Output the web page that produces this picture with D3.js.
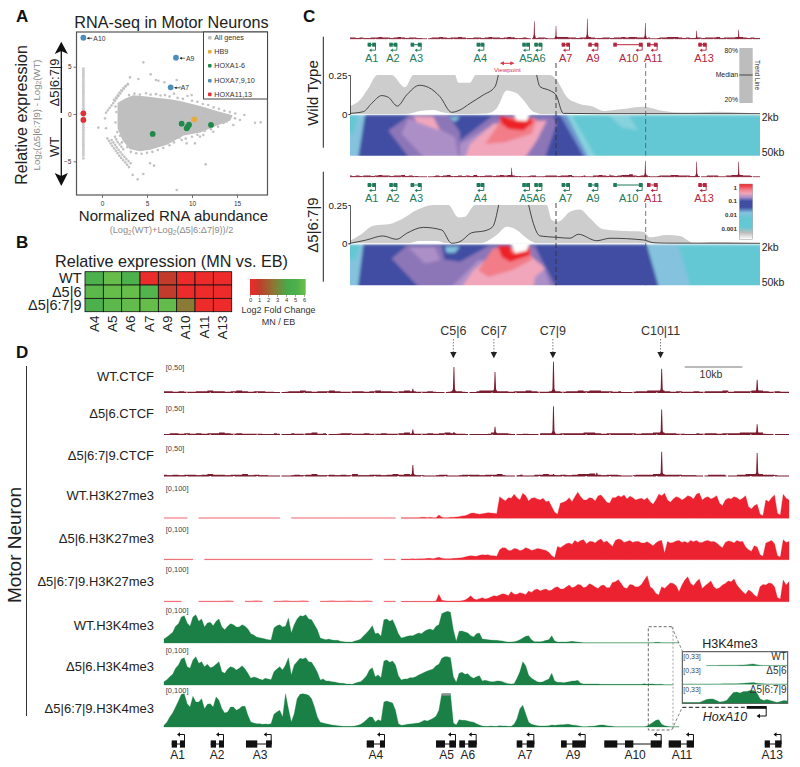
<!DOCTYPE html>
<html><head><meta charset="utf-8">
<script src="https://cdn.jsdelivr.net/npm/d3@7"></script>
<style>html,body{margin:0;padding:0;background:#fff}svg{display:block}text{font-family:"Liberation Sans",Arial,sans-serif}</style>
</head><body><div id="c"></div>
<script>
// ---------- Panel A data (log2 abundance, log2 ratio)
const cloudOutline=[[1.81,1.13],[2.56,1.55],[3.48,1.9],[4.96,1.76],[6.07,1.65],[7.56,1.48],[8.67,1.3],[10.9,.77],[12.74,.25],[14.4,-.18],[14.2,-.63],[12.4,-1.27],[10.9,-1.87],[9.04,-2.2],[7.2,-3.17],[5.33,-3.7],[4.2,-3.87],[3.1,-3.63],[2.37,-2.75],[1.81,-1.5]];
const fringeGenes=[[3,2],[3.6,2.15],[4.2,2.05],[4.9,2.2],[5.4,2.05],[6,2.1],[6.5,1.95],[7,2],[7.5,1.85],[8,2.15],[8.4,1.7],[9,1.6],[9.5,1.9],[10,1.4],[10.6,1.3],[11.2,1.05],[11.8,.95],[12.4,.7],[13,.55],[13.6,.35],[14.2,.2],[14.8,.05],[13.5,-.95],[12.9,-1.35],[12.1,-1.6],[11.4,-1.8],[10.6,-2.2],[10,-2.4],[9.3,-2.6],[8.6,-2.5],[8,-3],[7.5,-3.3],[6.8,-3.6],[6.2,-3.8],[5.6,-4],[5,-4.1],[4.4,-4.2],[3.8,-4.15],[3.2,-4],[2.8,-3.5],[2.2,-3],[2,-2.3],[1.7,-1.9],[1.5,-.9],[1.6,.2],[1.5,.8]];
const arcUpperOuter=[[.44,.14],[.81,.6],[1.19,1.06],[1.56,1.55],[1.93,2.04],[2.3,2.54],[2.67,2.96],[3.04,3.35]];
const arcUpperInner=[[1.33,1.48],[1.63,1.83],[1.93,2.25],[2.22,2.6],[2.6,2.96],[2.96,3.17]];
const arcLowerOuter=[[.59,-2.57],[.89,-2.99],[1.19,-3.45],[1.52,-3.87],[1.85,-4.3],[2.22,-4.75],[2.67,-5.21],[3.11,-5.74]];
const arcLowerMid=[[1.07,-2.75],[1.33,-3.1],[1.63,-3.52],[1.93,-3.9],[2.3,-4.33],[2.74,-4.79],[3.19,-5.21]];
const arcLowerInner=[[1.44,-2.4],[1.7,-2.92],[2.07,-3.35],[2.44,-3.8]];
const outlierGenes=[[4.59,5.46],[5.41,4.19],[6,3.59],[4.04,3.7],[3.11,3.87],[6.26,3.52],[6.93,3.35],[8.3,3.59],[8.67,2.82],[9.96,2],[11,.14],[15.81,-.11],[17,-.92],[17.63,-.88],[14.78,-.46],[-.41,-1.44],[.33,-.46],[.44,-1.51],[11.52,-5.32],[8.3,-8.03],[4.59,-6.34],[3.96,-6.9],[3.41,-6.44],[5.33,-5.21],[5.78,-5.46],[6.81,-3.1],[7.37,-2.92],[10.89,-2.39],[11.26,-2.22],[12.37,-1.87],[14.59,-1.16],[15.33,-.63],[10.33,-3.1],[8.85,-2.75],[13.85,-.81],[9.41,-3.1]];
const zeroAbundanceX=-2.07;
const zeroAbundanceY=[4.8,4.6,4.4,4.2,4,3.8,3.6,3.4,3.2,3,2.8,2.6,2.4,2.2,2,1.8,1.6,1.4,1.2,1,.8,.6,.4,.2,-.2,-.4,-.8,-1,-1.2,-1.4,-1.6,-1.8,-2,-2.2,-2.4,-2.6,-2.8,-3,-3.2,-3.4,-3.6,-3.8,-4,-4.2,-4.4,-4.7];
const hoxBlue=[[-2.07,8.06,"A10"],[8.22,5.95,"A9"],[7.63,2.82,"A7"]];
const hoxRed=[[-2.07,.07],[-2.07,-.63]];
const hoxGreen=[[5.63,-2.11],[8.85,-1.02],[9.41,-1.51],[9.52,-1.34],[9.67,-1.13],[12.11,-1.16]];
const hb9=[[10.26,-.56]];
const legendA=["All genes","HB9","HOXA1-6","HOXA7,9,10","HOXA11,13"];
// ---------- Panel B data
const bCols=["A4","A5","A6","A7","A9","A10","A11","A13"];
const bRows=["WT","Δ5|6","Δ5|6:7|9"];
const bWT=[5.0,5.8,5.0,0.1,1.0,0.05,0.05,0.05];
const bD56=[5.5,5.8,5.8,5.2,1.0,0.05,0.05,0.05];
const bD5679=[5.0,5.5,5.7,5.8,5.7,2.6,0.05,0.05];
const bScaleTicks=[0,1,2,3,4,5,6];
// ---------- Panel C data (locus bin, contact frequency x1000)
const cGeneNames=["A1","A2","A3","A4","A5","A6","A7","A9","A10","A11","A13"];
const cGeneSpan=[[203,228],[268,292],[332,365],[530,553],[667,690],[703,727],[785,810],[865,895],[940,1028],[1041,1073],[1195,1220]];
const cGeneLabelPos=[215,279,349,541,678,717,797,879,986,1060,1212];
const cWTGreen=6, cMutGreen=9;
const wtUpper=[[150,51],[180,90],[205,165],[232,250],[275,250],[315,171],[340,250],[465,250],[475,201],[510,201],[527,250],[750,250],[770,218],[800,111],[835,68],[880,47],[910,19],[960,30],[1030,47],[1060,36],[1090,19],[1150,9],[1250,15],[1380,2]];
const wtLower=[[150,0],[320,0],[360,19],[400,26],[430,9],[470,0],[560,4],[590,36],[620,150],[650,133],[670,90],[700,15],[730,0],[1380,0]];
const wtMedian=[[150,4],[190,15],[215,68],[245,118],[265,107],[292,51],[320,122],[358,184],[385,171],[420,111],[455,11],[480,26],[510,68],[550,122],[585,175],[595,250],[650,null],[710,250],[720,175],[750,150],[768,122],[790,4],[900,2],[1380,2]];
const mutUpper=[[150,17],[180,54],[220,115],[270,126],[310,163],[350,217],[400,250],[445,250],[475,169],[495,174],[525,250],[740,250],[755,152],[775,141],[810,206],[840,221],[870,163],[910,91],[960,82],[1030,76],[1050,39],[1100,54],[1140,48],[1180,4],[1250,9],[1380,0]];
const mutLower=[[150,0],[320,0],[360,15],[410,15],[440,0],[540,0],[590,54],[620,108],[650,87],[680,33],[710,0],[1380,0]];
const mutMedian=[[150,0],[200,22],[248,48],[290,26],[320,65],[370,104],[425,87],[455,0],[480,11],[515,69],[555,82],[578,108],[596,250],[640,null],[686,250],[700,130],[720,48],[770,39],[810,33],[835,59],[890,17],[930,33],[1030,22],[1060,4],[1100,1],[1380,0]];
const cPeaksWT=[[640,1.5],[703,17.5],[768,12.6],[862,20],[1036,15.7],[1190,8],[1316,9]];
const cPeaksMut=[[635,9],[930,2.5],[1036,16],[1190,15],[1316,15]];
const contactLevels={cyan:"#64c7d4",lcyan:"#86d2dd",lblue:"#84c2dd",mblue:"#6f93cf",blue:"#3f4ea3",purple:"#8d76b8",lav:"#ad8fc8",pink:"#f1a6bb",salmon:"#f27d88",red:"#ec2127",white:"#ffffff"};
const wtContacts=[
["cyan",[[15,13],[1245,13],[1245,135],[15,135]]],
["lcyan",[[790,13],[850,13],[880,60],[830,50]]],
["lcyan",[[650,13],[680,13],[770,135],[735,135]]],
["lblue",[[15,13],[60,13],[35,135],[15,135]]],
["cyan",[[15,13],[40,13],[25,70],[15,70]]],
["mblue",[[640,13],[665,13],[745,135],[725,135]]],
["blue",[[60,13],[645,13],[735,135],[35,135]]],
["purple",[[130,60],[195,15],[310,15],[345,65],[345,135],[215,135]]],
["lav",[[190,25],[280,55],[330,80],[345,135],[265,135],[170,70]]],
["purple",[[345,135],[345,90],[440,18],[625,18],[635,40],[590,135]]],
["pink",[[205,18],[265,20],[285,60],[215,35]]],
["lav",[[345,135],[345,100],[430,50],[500,135]]],
["pink",[[350,135],[375,100],[445,40],[605,30],[575,90],[520,135]]],
["salmon",[[420,100],[455,50],[470,18],[575,25],[560,70],[480,95]]],
["red",[[462,18],[475,18],[510,30],[555,25],[565,35],[535,60],[490,55],[470,40]]],
["lblue",[[312,20],[345,20],[330,35]]],
["white",[[505,6],[555,6],[545,32],[515,30]]]];
const mutContacts=[
["cyan",[[15,13],[1245,13],[1245,135],[15,135]]],
["lblue",[[905,13],[1000,13],[1045,135],[950,135]]],
["lblue",[[15,13],[55,13],[40,135],[15,135]]],
["cyan",[[15,13],[45,13],[30,60],[15,60]]],
["blue",[[55,13],[905,13],[950,135],[35,135]]],
["purple",[[140,55],[185,18],[290,18],[298,58],[345,65],[430,18],[570,18],[590,60],[650,135],[250,135]]],
["lav",[[190,22],[270,22],[285,60],[240,70]]],
["lav",[[290,135],[400,60],[590,70],[630,135]]],
["pink",[[330,135],[385,90],[435,50],[560,50],[600,85],[570,110],[560,135]]],
["salmon",[[400,90],[445,25],[555,25],[560,60],[500,90],[430,110]]],
["red",[[458,17],[495,17],[500,40],[545,28],[555,17],[555,45],[495,65],[470,50]]],
["lblue",[[300,20],[345,20],[330,38],[305,38]]],
["white",[[497,6],[555,6],[545,32],[510,40]]]];
const contactTicks=[["1",1],["0.1",.1],["0.01",.01],["0.001",.001]];
// ---------- Panel D data
const trackNames=["WT.CTCF","Δ5|6.CTCF","Δ5|6:7|9.CTCF","WT.H3K27me3","Δ5|6.H3K27me3","Δ5|6:7|9.H3K27me3","WT.H3K4me3","Δ5|6.H3K4me3","Δ5|6:7|9.H3K4me3"];
// CTCF background: one value per kb
const ctcfWT=[2,2,1,2,1,1,2,2,3,2,2,1,2,3,2,1,2,2,1,1,0,1,2,2,3,2,1,2,2,3,2,1,1,2,2,1,2,3,2,2,1,2,3,2,1,1,2,1,0,1,2,2,1,0,2,3,3,3,2,2,1,2,2,3,2,1,1,2,2,1,2,2,3,2,3,3,2,2,1,2,0,1,2,2,3,3,3,2,1,2,1,1,2,1,2,2,2,3,1,2,2,2,3,3,2,1,2,1,1];
const ctcfD56=[0,2,2,1,2,1,2,1,2,2,3,2,1,2,1,1,1,1,0,2,1,0,2,1,1,2,3,1,2,0,1,2,2,1,1,2,1,1,2,1,1,2,3,1,1,1,2,1,2,3,2,1,1,0,1,0,1,3,2,2,1,0,1,1,0,2,2,2,1,2,2,2,2,3,3,2,1,2,2,2,2,2,1,2,2,3,3,2,2,1,1,0,2,1,2,2,1,2,2,2,3,3,3,3,1,0,1,0,1];
const ctcfD5679=[2,1,2,1,2,2,1,2,3,2,2,1,2,2,3,1,2,1,1,0,1,0,1,2,1,2,3,1,1,2,1,2,1,3,1,1,2,2,1,2,3,2,3,2,1,1,0,1,2,2,0,1,2,2,2,1,2,2,3,1,0,1,2,0,2,2,3,2,1,2,1,2,3,3,4,2,1,2,2,1,0,1,2,2,2,3,3,2,2,2,1,1,1,0,2,2,2,2,0,2,2,3,3,3,2,2,1,0,1];
const peaksWT=[[43,6],[50.1,40],[57.2,32],[67.3,48],[86,37],[102.5,20]];
const peaksD56=[[43,8],[50.1,4],[57.2,12],[67.3,44],[86,39],[102.5,16]];
const peaksD5679=[[43,17],[67.3,3],[74.8,5],[86,38],[102.5,36]];
// H3K27me3 low part: one value per kb, kb 0-40
const k27WTLow=[2,2,2,2,2,null,2,2,2,2,2,2,2,2,2,2,2,2,2,2,2,null,2,2,2,2,2,2,2,2,2,2,2,2,2,2,2,2,2,2,2];
const k27D56Low=[2,2,2,2,2,2,null,2,2,2,2,2,2,2,2,2,2,2,2,2,2,2,2,2,2,2,2,2,2,2,2,2,2,2,2,2,2,null,2,2,2];
const k27D5679Low=[2,2,2,2,null,null,2,2,2,2,2,3,2,null,2,2,3,2,null,2,2,3,2,2,3,2,null,2,2,3,2,2,3,2,2,3,2,null,2,2,2];
// H3K27me3 main part: one value per 0.5 kb, kb 41-108
const k27WT=[2,2,2,2,2,2,2,3,3,2,3,2,2,10,3,2,2,3,3,4,5,7,8,11,15,16,14,12,14,15,17,16,15,14,65,58,52,62,60,72,62,55,75,68,52,60,62,58,55,60,50,52,35,18,12,45,48,52,62,50,65,78,65,55,55,62,60,52,67,70,60,48,45,62,62,68,64,70,58,66,62,55,58,60,55,62,50,42,55,72,68,75,55,48,58,65,62,55,60,68,65,58,72,76,55,62,65,58,62,68,45,38,55,60,58,65,62,55,60,68,35,28,38,42,12,8,55,50,62,70,15,10,72,60,55];
const k27D56=[2,2,2,2,3,2,3,3,3,4,4,3,5,7,4,3,3,3,4,4,5,6,8,10,12,11,10,13,15,14,15,12,12,10,30,36,35,28,28,34,32,27,30,36,33,28,30,34,32,30,28,22,12,6,40,36,42,48,50,46,58,52,58,60,48,55,55,50,58,62,52,56,48,40,58,62,60,52,55,58,52,55,55,50,50,54,48,42,50,56,58,20,55,50,52,56,58,52,55,50,58,54,58,52,52,56,58,54,55,50,42,36,52,56,55,50,58,54,55,38,30,25,42,38,15,10,50,54,58,48,12,8,60,52,55];
const k27D5679=[1,1,1,1,1,1,1,1,1,1,1,1,2,22,4,3,2,2,2,2,2,3,5,10,18,9,6,9,12,8,10,14,18,16,20,24,22,18,30,22,22,27,25,21,32,28,35,38,32,36,38,33,35,42,45,38,38,44,50,42,45,52,50,42,45,54,50,44,40,48,50,42,42,58,60,66,55,42,40,52,50,44,45,52,65,78,45,38,25,20,45,40,48,56,55,48,30,50,65,75,55,48,60,68,40,48,55,62,45,38,42,50,55,62,60,68,50,40,30,22,35,30,20,14,45,52,50,56,55,45,12,8,65,50,60];
// H3K4me3: one value per 0.5 kb, kb 0-89
const k4WT=[12,18,25,32,50,58,78,82,60,50,78,85,65,72,48,60,62,52,65,72,48,40,50,58,55,48,48,55,50,42,28,24,18,16,14,12,10,9,45,52,55,48,50,75,30,55,72,82,80,85,72,70,55,40,15,12,10,12,9,8,8,5,4,3,3,3,6,8,12,22,30,40,52,28,30,20,70,72,65,70,50,28,15,17,20,22,22,26,30,28,35,40,42,38,50,55,88,92,95,92,40,5,35,36,33,30,22,18,28,30,12,11,10,9,8,8,7,6,4,3,3,4,6,10,15,20,22,10,4,4,4,5,8,10,22,6,3,3,3,3,4,5,4,3,2,1,1,1,1,1,1,1,1,1,1,1,1,1,1,1,1,1,1,1,1,1,1,1,1,1,2,2,1,1,1,1,1,1,1];
const k4D56=[10,16,25,32,50,60,78,82,55,50,75,85,65,70,55,62,52,55,62,70,40,35,48,55,52,45,50,58,48,35,20,24,22,18,15,20,18,16,40,48,55,45,60,82,30,60,70,80,78,82,70,68,55,38,15,18,12,12,10,9,7,5,5,3,3,2,5,8,10,18,28,45,52,25,30,22,72,75,68,72,60,28,15,18,18,22,22,25,30,34,38,42,45,48,58,62,80,85,85,82,25,8,35,38,32,34,25,20,25,28,12,14,12,10,10,12,12,10,6,4,3,4,20,40,70,58,30,20,15,10,8,10,14,18,35,12,8,8,7,8,10,12,12,14,5,3,3,3,3,3,3,2,2,2,2,2,2,2,2,2,2,2,2,2,2,2,4,2,3,3,2,2,2,1,1,1,1];
const k4D5679=[5,14,30,42,60,78,98,100,70,60,92,75,75,85,55,68,70,60,90,80,55,42,45,60,60,50,55,62,62,35,15,12,10,10,8,9,8,10,38,45,50,30,100,55,15,40,85,98,100,98,95,85,60,30,14,12,10,8,6,5,4,3,2,2,2,2,3,5,8,14,22,30,30,15,22,18,75,78,75,72,50,10,5,6,8,9,10,11,12,16,20,18,22,26,32,50,100,100,100,100,12,6,22,20,20,18,16,14,10,6,3,2,2,3,2,2,4,3,3,2,2,8,25,55,65,40,15,8,6,4,3,3,3,4,6,5,6,7,7,8,8,6,5,4,2,1,1,2,2,3,5,6,6,4,3,2,1,1,1,1,1,1,1,1,1,1,1,3,8,14,20,22,8,4,2,1,1,1,1];
const geneNames=["A1","A2","A3","A4","A5","A6","A7","A9","A10","A11","A13"];
const geneExons=[[[1.33,2.25],[2.76,3.63]],[[8.07,8.99],[9.5,10.37]],[[14.17,16.12],[17.63,18.61]],[[35.03,36.29],[37.32,38.19]],[[47,48.56],[49.3,50.46]],[[51.03,52.01],[52.58,54.03]],[[60.95,61.92],[62.68,63.99]],[[68.6,69.59],[70.55,72.87]],[[76.08,78.33],[79.66,81.1],[84.1,86]],[[87.21,89.33],[90.32,91.58]],[[103.8,104.7],[105.6,106.7]]];
const geneLabelKb=[2.37,9.16,16.6,36.6,48.85,52.5,62.4,70.7,81.4,89.5,105.1];
const boundaries=[["C5|6",50],["C6|7",57],["C7|9",67.2],["C10|11",85.8]];
const insetRows=["WT","Δ5|6","Δ5|6:7|9"];
const insetWT=[null,null,null,null,null,null,null,.5,.5,.6,.6,.8,.8,1,1,1,1,1.2,1.5,2,3,3.5,2,1,.6,.5,.5,.5,.5,.5,.5,.5];
const insetD56=[.5,.5,.5,.5,.5,.5,.5,.5,.6,.6,.8,.8,1,1,1,1,1.2,1.5,2,2.5,3,3.5,2,1.5,1,.6,.5,.5,.5,.5,.5,.5];
const insetD5679=[1,1,1,1,1,1,4,7,8,8,5,2,3,5,13,21,22,20,23,23,25,25,20,8,5,7,5,3,1,3,5,4];

// ---------- helpers
const W=800,H=767;
const svg=d3.select("#c").append("svg").attr("width",W).attr("height",H).attr("viewBox",`0 0 ${W} ${H}`);
const defs=svg.append("defs");
defs.append("filter").attr("id","soft").attr("x","-5%").attr("y","-20%").attr("width","110%").attr("height","140%").append("feGaussianBlur").attr("stdDeviation",1.7);
const SANS='"Liberation Sans",Arial,sans-serif', OPEN='"Open Sans",sans-serif';
function T(x,y,s,o={}){const e=svg.append("text").attr("x",x).attr("y",y).attr("dominant-baseline","central").attr("font-size",o.size||10).attr("fill",o.fill||"#222").attr("font-family",o.font||SANS).attr("text-anchor",o.anchor||"start").text(s);
 if(o.weight)e.attr("font-weight",o.weight);if(o.style)e.attr("font-style",o.style);if(o.rot!=null)e.attr("transform",`rotate(${o.rot} ${x} ${y})`);return e;}
function L(x1,y1,x2,y2,c="#333",w=1,dash){const e=svg.append("line").attr("x1",x1).attr("y1",y1).attr("x2",x2).attr("y2",y2).attr("stroke",c).attr("stroke-width",w);if(dash)e.attr("stroke-dasharray",dash);return e;}
function head(pts,c){svg.append("polygon").attr("points",pts.map(p=>p.join(",")).join(" ")).attr("fill",c);}
[["A",16,16],["B",16,242],["C",303,16],["D",16,352]].forEach(d=>T(d[1],d[2],d[0],{size:17,weight:"bold",fill:"#111"}));

// ---------- Panel A
const ax=d3.scaleLinear().domain([0,15]).range([102,237]);
const ay=d3.scaleLinear().domain([-5,5]).range([161.3,66.7]);
T(171.5,21.5,"RNA-seq in Motor Neurons",{size:16.2,anchor:"middle",fill:"#222"});
const gA=svg.append("g");
const aLine=d3.line().x(d=>ax(d[0])).y(d=>ay(d[1]));
gA.append("path").datum(cloudOutline).attr("d",aLine.curve(d3.curveLinearClosed)).attr("fill","#bfbfbf").attr("stroke","#bfbfbf").attr("stroke-width",1.5);
aLine.curve(d3.curveLinear);
[arcUpperOuter,arcUpperInner,arcLowerOuter,arcLowerMid,arcLowerInner].forEach(a=>gA.append("path").datum(a).attr("d",aLine).attr("fill","none").attr("stroke","#c2c2c2").attr("stroke-width",2.6).attr("stroke-linecap","round").attr("stroke-dasharray","0.1 2.9"));
gA.selectAll(null).data(fringeGenes.concat(outlierGenes)).join("circle").attr("cx",d=>ax(d[0])).attr("cy",d=>ay(d[1])).attr("r",1.3).attr("fill","#c2c2c2");
gA.selectAll(null).data(zeroAbundanceY).join("circle").attr("cx",ax(zeroAbundanceX)).attr("cy",d=>ay(d)).attr("r",1.4).attr("fill","#cacaca");
[[hoxGreen,"#1f8a4c"],[hb9,"#e9ab3c"],[hoxBlue,"#4b8dbd"],[hoxRed,"#e0303a"]].forEach(([arr,c])=>{
 gA.selectAll(null).data(arr).join("circle").attr("cx",d=>ax(d[0])).attr("cy",d=>ay(d[1])).attr("r",2.9).attr("fill",c);});
hoxBlue.forEach(d=>{const x=ax(d[0]),y=ay(d[1]);L(x+4,y+.5,x+9,y+.5,"#222",.7);head([[x+3.5,y+.5],[x+6,y-.8],[x+6,y+1.8]],"#222");T(x+10,y+.5,d[2],{size:6.8,fill:"#333"});});
const axB=svg.append("g").attr("transform","translate(0,195)").call(d3.axisBottom(ax).tickValues([0,5,10,15]).tickSize(3).tickPadding(3));
const axL=svg.append("g").attr("transform","translate(76.5,0)").call(d3.axisLeft(ay).tickValues([-5,0,5]).tickSize(3).tickPadding(2));
[axB,axL].forEach(a=>{a.select(".domain").remove();a.selectAll("line").attr("stroke","#777");a.selectAll("text").attr("font-size",6.5).attr("fill","#333");});
svg.append("rect").attr("x",76.5).attr("y",32).attr("width",191).attr("height",163).attr("fill","none").attr("stroke","#555").attr("stroke-width",1.2);
svg.append("rect").attr("x",203.5).attr("y",32).attr("width",64).attr("height",67).attr("fill","#fff").attr("stroke","#444").attr("stroke-width",1);
const legC=["#bfbfbf","#e9ab3c","#1f8a4c","#4b8dbd","#e0303a"],legY=[37.7,51.7,65.7,80.7,94.3];
legendA.forEach((s,i)=>{svg.append("rect").attr("x",208).attr("y",legY[i]-1.7).attr("width",3.6).attr("height",3.6).attr("rx",1).attr("fill",legC[i]);T(214.3,legY[i],s,{size:7.2,fill:"#333"});});
T(21,115,"Relative expression",{size:16,rot:-90,anchor:"middle"});
const sub1=T(36,115,"",{size:9.6,rot:-90,anchor:"middle",fill:"#8a8a8a"});
[["Log",0],["2",1],["(Δ5|6:7|9) - Log",0],["2",1],["(WT)",0]].forEach(([s,sb])=>{const t=sub1.append("tspan").text(s);if(sb)t.attr("font-size",6.5).attr("dy",2);else if(s!=="Log")t.attr("dy",-2);});
L(61.3,113,61.3,50,"#111",1.3);head([[61.3,41.7],[54.7,54],[61.3,51],[67.9,54]],"#111");
L(61.3,118,61.3,178,"#111",1.3);head([[61.3,186],[54.7,173],[61.3,176],[67.9,173]],"#111");
T(54.3,82.5,"Δ5|6:7|9",{size:13,rot:-90,anchor:"middle"});
T(54.3,147,"WT",{size:13,rot:-90,anchor:"middle"});
T(173.5,215,"Normalized RNA abundance",{size:15,anchor:"middle"});
const sub2=T(171.5,230,"",{size:9.2,anchor:"middle",fill:"#8a8a8a"});
[["(Log",0],["2",1],["(WT)+Log",0],["2",1],["(Δ5|6:Δ7|9))/2",0]].forEach(([s,sb])=>{const t=sub2.append("tspan").text(s);if(sb)t.attr("font-size",6.5).attr("dy",2);else if(s!=="(Log")t.attr("dy",-2);});

// ---------- Panel B
T(171.5,260.7,"Relative expression (MN vs. EB)",{size:16.2,anchor:"middle"});
const bx=d3.scaleBand().domain(bCols).range([85,231.7]);
const by=d3.scaleBand().domain(bRows).range([271.7,311.7]);
const fc=d3.scaleLinear().domain([0,1,2.6,4,5,6]).range(["#ee2a2a","#c23b2b","#8a7a35","#4aa84a","#4cb04c","#6dc04a"]);
[bWT,bD56,bD5679].forEach((vals,r)=>{svg.selectAll(null).data(vals).join("rect").attr("x",(d,i)=>bx(bCols[i])).attr("y",by(bRows[r])).attr("width",bx.bandwidth()).attr("height",by.bandwidth()).attr("fill",d=>fc(d)).attr("stroke","#111").attr("stroke-width",.8);});
bRows.forEach((s,i)=>T(81.5,by(s)+by.bandwidth()/2,s,{size:14.5,anchor:"end"}));
bCols.forEach(s=>T(bx(s)+bx.bandwidth()/2,315.5,s,{size:13.5,rot:-90,anchor:"end"}));
const gb=defs.append("linearGradient").attr("id","fcg");
d3.range(0,6.01,.5).forEach(v=>gb.append("stop").attr("offset",v/6).attr("stop-color",fc(v)));
const cb=d3.scaleLinear().domain([0,6]).range([250.5,304.5]);
svg.append("rect").attr("x",250).attr("y",279).attr("width",55.7).attr("height",16).attr("fill","url(#fcg)");
bScaleTicks.forEach(v=>{L(cb(v),295,cb(v),297,"#555",.5);T(cb(v),300.3,v,{size:5.8,anchor:"middle",fill:"#333"});});
T(278.5,310,"Log2 Fold Change",{size:9,anchor:"middle",fill:"#333"});
T(278.5,321.7,"MN / EB",{size:9,anchor:"middle",fill:"#333"});

// ---------- Panel C
const cX=d3.scaleLinear().domain([150,1380]).range([350,760]);
const hX=d3.scaleLinear().domain([15,1245]).range([350,760]);
function cTrack(noise,peaks,base){
 const nx=d3.scaleLinear().domain([0,noise.length-1]).range([350,760]);
 svg.append("path").datum(noise).attr("d",d3.area().defined(d=>d>0).x((d,i)=>nx(i)).y0(base).y1(d=>base-d*.6).curve(d3.curveStep)).attr("fill","#8a1f35");
 L(350,base,760,base,"#8a1f35",.8,"12 1");
 svg.selectAll(null).data(peaks).join("path").attr("d",d=>{const x=cX(d[0]);return `M${x-1.8},${base}L${x-.6},${base-d[1]*.22}L${x-.25},${base-d[1]}L${x+.25},${base-d[1]}L${x+.6},${base-d[1]*.22}L${x+1.8},${base}Z`;}).attr("fill","#8a1f35");
}
function cGenes(yb,nGreen){
 const green="#1f7a58",crim="#b3263f";
 cGeneNames.forEach((n,i)=>{const c=i<nGreen?green:crim,[s,e]=cGeneSpan[i],x0=cX(s),x1=cX(e);
  L(x0,yb,x1,yb,c,1);
  svg.append("rect").attr("x",x0).attr("y",yb-2).attr("width",3.5).attr("height",4).attr("fill",c);
  svg.append("rect").attr("x",x1-3.8).attr("y",yb-2).attr("width",3.8).attr("height",4).attr("fill",c);
  svg.append("path").attr("d",`M${x1-.5},${yb+1}V${yb+5.5}H${x1-5}`).attr("fill","none").attr("stroke",c).attr("stroke-width",.9);
  head([[x1-7,yb+5.5],[x1-4.5,yb+3.8],[x1-4.5,yb+7.2]],c);
  T(cX(cGeneLabelPos[i]),yb+13,n,{size:11,anchor:"middle",fill:c,font:OPEN});});
}
function cMap(polys,top,id){
 const hY=d3.scaleLinear().domain([13,135]).range([top,top+41]);
 const ex=p=>(p[0]<=15?hX(-50):p[0]>=1245?hX(1300):hX(p[0]))+","+(p[1]>=135?hY(170):hY(p[1]));
 defs.append("clipPath").attr("id",id).append("rect").attr("x",350).attr("y",top).attr("width",410).attr("height",41);
 const g=svg.append("g").attr("clip-path",`url(#${id})`).append("g").attr("filter","url(#soft)");
 g.selectAll("polygon").data(polys).join("polygon").attr("points",d=>d[1].map(ex).join(" ")).attr("fill",d=>contactLevels[d[0]]);
}
function cTrend(up,lo,med,y0,y1,id){
 const v=d3.scaleLinear().domain([0,250]).range([y0,y1]);
 const ar=d3.area().x(d=>cX(d[0])).y0(y0).y1(d=>v(d[1])).curve(d3.curveMonotoneX);
 svg.append("path").datum(up).attr("d",ar).attr("fill","#cdcdcd");
 svg.append("path").datum(lo).attr("d",ar).attr("fill","#fff");
 svg.append("path").datum(med).attr("d",d3.line().defined(d=>d[1]!=null).x(d=>cX(d[0])).y(d=>v(d[1])).curve(d3.curveMonotoneX)).attr("fill","none").attr("stroke","#222").attr("stroke-width",.8);
 const ya=d3.scaleLinear().domain([0,.25]).range([y0,y1]);
 const a=svg.append("g").attr("transform","translate(350,0)").call(d3.axisLeft(ya).tickValues([0,.25]).tickFormat(d=>d==0?"0":"0.25").tickSize(1.5).tickPadding(1));
 a.selectAll("path,line").attr("stroke","#333").attr("stroke-width",.8);
 a.selectAll("text").attr("font-size",9.8).attr("fill","#222").attr("font-family",OPEN);
}
cTrack(ctcfWT,cPeaksWT,38.7);
cGenes(44.7,cWTGreen);
L(323.3,36.7,323.3,147.7,"#222",1);
T(312,93,"Wild Type",{size:15,rot:-90,anchor:"middle",font:OPEN});
cTrend(wtUpper,wtLower,wtMedian,114,75);
cMap(wtContacts,114.7,"m1");
T(761.7,117,"2kb",{size:10.5,font:OPEN});T(761.7,152,"50kb",{size:10.5,font:OPEN});
L(cX(768),63,cX(768),155.5,"#333",.9,"5 3");
L(cX(1037),63,cX(1037),155.5,"#555",.8,"5 3");
L(cX(603),63.3,cX(640),63.3,"#d93348",1);
head([[cX(600),63.3],[cX(612),61.3],[cX(612),65.3]],"#d93348");head([[cX(643),63.3],[cX(631),61.3],[cX(631),65.3]],"#d93348");
T(cX(622),69.7,"Viewpoint",{size:6.2,anchor:"middle",fill:"#d93348",font:OPEN});
svg.append("rect").attr("x",739.3).attr("y",48).attr("width",13.4).attr("height",55).attr("fill","#bdbdbd");
L(739.3,75,752.7,75,"#444",1);
T(738,50,"80%",{size:6.8,anchor:"end",font:OPEN});T(738,74,"Median",{size:6.8,anchor:"end",font:OPEN});T(738,99.5,"20%",{size:6.8,anchor:"end",font:OPEN});
T(757,75,"Trend Line",{size:6.3,rot:90,anchor:"middle",font:OPEN});

cTrack(ctcfD5679,cPeaksMut,176.7);
cGenes(185,cMutGreen);
L(323.3,171.7,323.3,281.7,"#222",1);
T(312,225,"Δ5|6:7|9",{size:15,rot:-90,anchor:"middle",font:OPEN});
cTrend(mutUpper,mutLower,mutMedian,243.3,205);
cMap(mutContacts,244.3,"m2");
T(761.7,246.7,"2kb",{size:10.5,font:OPEN});T(761.7,282,"50kb",{size:10.5,font:OPEN});
L(cX(768),203,cX(768),285.3,"#333",.9,"5 3");
L(cX(1037),203,cX(1037),285.3,"#555",.8,"5 3");
const gg=defs.append("linearGradient").attr("id","cg").attr("x1",0).attr("y1",0).attr("x2",0).attr("y2",1);
[[0,"#ec2127"],[.1,"#f27d88"],[.17,"#f1a6bb"],[.24,"#ad8fc8"],[.31,"#3f4ea3"],[.42,"#3f4ea3"],[.52,"#84c2dd"],[.62,"#64c7d4"],[.78,"#64c7d4"],[.88,"#bdbdbd"],[1,"#fff"]].forEach(d=>gg.append("stop").attr("offset",d[0]).attr("stop-color",d[1]));
svg.append("rect").attr("x",739.3).attr("y",184).attr("width",13.4).attr("height",55.3).attr("fill","url(#cg)").attr("stroke","#999").attr("stroke-width",.5);
const cLeg=[187,200.7,214,228.3];
contactTicks.forEach((d,i)=>T(737,cLeg[i],d[0],{size:6.2,anchor:"end",weight:"bold",fill:"#333",font:OPEN}));

// ---------- Panel D
const kb=d3.scaleLinear().domain([0,108]).range([164,789]);
const hK=d3.scaleLinear().domain([0,100]).range([0,33.3]);
const hC=d3.scaleLinear().domain([0,50]).range([0,32]);
const lblY=[376,413,455,495,538,581,625,666,708];
trackNames.forEach((s,i)=>T(154,lblY[i],s,{size:13,anchor:"end"}));
L(26.5,366,26.5,716,"#333",1);
T(14,545,"Motor Neuron",{size:19,rot:-90,anchor:"middle"});
[[367,"[0,50]"],[408,"[0,50]"],[448,"[0,50]"],[488,"[0,100]"],[529,"[0,100]"],[569,"[0,100]"],[610,"[0,100]"],[650,"[0,100]"],[690,"[0,100]"]].forEach(d=>T(165.7,d[0],d[1],{size:7.5,fill:"#444",font:OPEN}));
function ctcf(noise,peaks,base){
 const c="#7b1c2e";
 svg.append("path").datum(noise).attr("d",d3.area().defined(d=>d>0).x((d,i)=>kb(i)).y0(base).y1(d=>base-hC(d)).curve(d3.curveStep)).attr("fill",c);
 L(kb(0),base,kb(108),base,c,1.1,"22 1.5");
 svg.selectAll(null).data(peaks).join("path").attr("d",d=>{const x=kb(d[0]),h=hC(d[1]);return `M${x-2.6},${base}L${x-1},${base-Math.min(h*.22,3.5)}L${x-.4},${base-h}L${x+.4},${base-h}L${x+1},${base-Math.min(h*.22,3.5)}L${x+2.6},${base}Z`;}).attr("fill",c);
}
ctcf(ctcfWT,peaksWT,392.5);ctcf(ctcfD56,peaksD56,434.5);ctcf(ctcfD5679,peaksD5679,476);
function sig(vals,start,step,base,c){
 svg.append("path").datum(vals).attr("d",d3.area().defined(d=>d!=null).x((d,i)=>kb(start+i*step)).y0(base).y1(d=>base-hK(d))).attr("fill",c).attr("stroke",c).attr("stroke-width",.3);
}
[[k27WTLow,k27WT,518.3],[k27D56Low,k27D56,559.7],[k27D5679Low,k27D5679,601.7]].forEach(([lo,hi,b])=>{sig(lo,0,1,b,"#f05a63");sig(hi,41,.5,b,"#ec2230");});
sig(k4WT,0,.5,643,"#1a8045");sig(k4D56,0,.5,685,"#1a8045");sig(k4D5679,0,.5,727,"#1a8045");
// clipped H3K4me3 signal cap over A5
const capped=k4D5679.map((d,i)=>[i*.5,d]).filter(d=>d[1]>=100&&d[0]>40);
svg.append("rect").attr("x",kb(capped[0][0])).attr("y",727-33.5).attr("width",kb(capped[capped.length-1][0])-kb(capped[0][0])).attr("height",2.2).attr("fill","#8f8f8f");
boundaries.forEach(([s,k])=>{const x=kb(k);T(x,330.7,s,{size:12.5,anchor:"middle",fill:"#333"});L(x,339,x,353,"#444",.7,"1.5 1.5");head([[x,358.3],[x-3.2,352],[x+3.2,352]],"#222");});
L(684.7,367,742.3,367,"#777",1.1);
T(711,374.2,"10kb",{size:10.5,anchor:"middle",fill:"#333"});
// genes
geneNames.forEach((n,i)=>{const ex=geneExons[i],y=744,c="#111",s=ex[0][0],e=ex[ex.length-1][1];
 L(kb(s),y,kb(e),y,c,1);
 ex.forEach(d=>svg.append("rect").attr("x",kb(d[0])).attr("y",y-3.6).attr("width",kb(d[1])-kb(d[0])).attr("height",7.2).attr("fill",c));
 const xe=kb(e)-.5;
 svg.append("path").attr("d",`M${xe},${y}V${y-9.5}H${xe-5}`).attr("fill","none").attr("stroke",c).attr("stroke-width",1);
 head([[xe-7.5,y-9.5],[xe-4.5,y-11.8],[xe-4.5,y-7.2]],c);
 T(kb(geneLabelKb[i]),755,n,{size:12,anchor:"middle",fill:"#222"});});
// inset
svg.append("path").attr("d","M671.7,626.7H648.3V730H671.7").attr("fill","none").attr("stroke","#444").attr("stroke-width",.8).attr("stroke-dasharray","3 2");
L(671.7,626.7,682.3,651,"#666",.8,"3 2");L(671.7,730,682.3,707.3,"#666",.8,"3 2");
L(673,626.7,673,730,"#888",.8,"2 2");
T(730,644,"H3K4me3",{size:12.5,anchor:"middle",fill:"#222"});
svg.append("rect").attr("x",682.3).attr("y",651.7).attr("width",105.4).attr("height",51.6).attr("fill","#fff").attr("stroke","#444").attr("stroke-width",1);
function inset(v,base){const ix=d3.scaleLinear().domain([0,v.length-1]).range([682.8,787.2]),iy=d3.scaleLinear().domain([0,33]).range([base,base-16.5]);
 svg.append("path").datum(v).attr("d",d3.area().defined(d=>d!=null).x((d,i)=>ix(i)).y0(base).y1(d=>iy(d))).attr("fill","#1a8045").attr("stroke","#1a8045").attr("stroke-width",.3);}
inset(insetWT,665.7);inset(insetD56,684.3);inset(insetD5679,703);
[656,670,689].forEach(y=>T(683.3,y,"[0,33]",{size:7,fill:"#444",font:OPEN}));
[656.7,670.7,689.3].forEach((y,i)=>T(786.7,y,insetRows[i],{size:10,anchor:"end",fill:"#333"}));
L(682.3,707.3,746.7,707.3,"#111",1,"4 2.5");
svg.append("rect").attr("x",746.7).attr("y",706).attr("width",20).attr("height",2.8).attr("fill","#111");
svg.append("path").attr("d","M766.2,708V716H759").attr("fill","none").attr("stroke","#111").attr("stroke-width",1);
head([[756.5,716],[760,713.8],[760,718.2]],"#111");
T(725,716.7,"HoxA10",{size:12.5,anchor:"middle",style:"italic",fill:"#222"});
</script></body></html>
